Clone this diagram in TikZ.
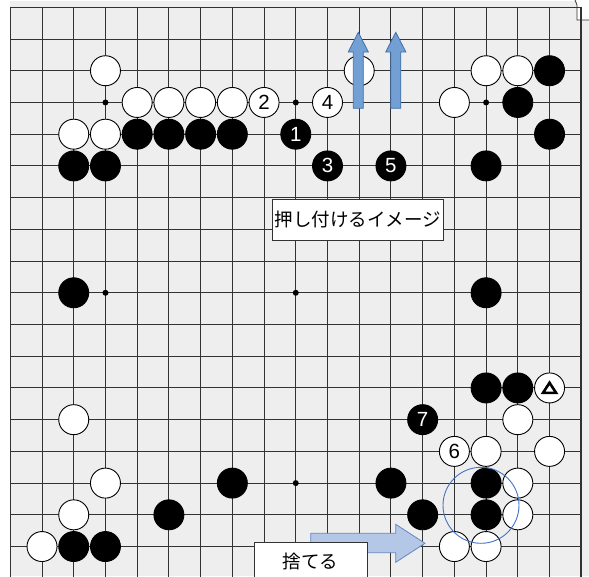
\documentclass[tikz,border=0pt]{standalone}
\usepackage{fontspec}
\setmainfont{Liberation Sans}
\newfontfamily\jpfont{Noto Sans CJK JP}
\definecolor{boardbg}{RGB}{238,238,238}
\definecolor{gridcol}{RGB}{50,50,50}
\definecolor{uparrowfill}{RGB}{114,159,212}
\definecolor{uparrowline}{RGB}{65,113,170}
\definecolor{rarrowfill}{RGB}{180,199,231}
\definecolor{rarrowline}{RGB}{100,135,190}
\definecolor{circcol}{RGB}{68,114,196}
\begin{document}
\begin{tikzpicture}[x=1pt,y=-1pt,
  gridline/.style={draw=gridcol,line width=0.9pt},
  frameline/.style={draw=gridcol,line width=1.6pt},
  starpt/.style={circle,fill=black,minimum size=6pt,inner sep=0pt},
  wst/.style={circle,draw=black,line width=0.9pt,fill=white,minimum size=30pt,inner sep=0pt,text=black,font=\fontsize{20.5}{20.5}\selectfont},
  bst/.style={circle,draw=black,line width=0.9pt,fill=black,minimum size=30pt,inner sep=0pt,text=white,font=\fontsize{20.5}{20.5}\selectfont},
  labelbox/.style={draw=gridcol,line width=0.8pt,fill=white,inner sep=0pt,font=\jpfont\fontsize{18.5}{18.5}\selectfont},
  uparrow/.style={fill=uparrowfill,draw=uparrowline,line width=0.8pt},
  rarrow/.style={fill=rarrowfill,draw=rarrowline,line width=0.8pt}]
\useasboundingbox (0,0) rectangle (589,576);
\fill[white] (0,0) rectangle (589,576);
\fill[boardbg] (10,1) rectangle (589,576);
\fill[white] (577,0) rectangle (589,20);
\draw[gridcol,line width=0.8pt] (575,0) -- (577,5) -- (577,20) -- (589,20);
\clip (0,0) rectangle (589,576);
\begin{scope}[shift={(10.3pt,-7.3pt)},x=31.72pt,y=-31.72pt]
  \foreach \k in {1,...,17} {
    \draw[gridline] (\k,0) -- (\k,18);
    \draw[gridline] (0,\k) -- (18,\k);
  }
  \draw[frameline] (0,18.5) -- (0,0) -- (18,0) -- (18,18.5);
  \foreach \i/\j in {3/3,9/3,15/3,3/9,9/9,15/9,3/15,9/15,15/15}
    \node[starpt] (s\i-\j) at (\i,\j) {};
  % white stones
  \foreach \i/\j in {3/2,4/3,5/3,6/3,7/3,2/4,3/4,11/2,15/2,16/2,14/3,
                     2/13,3/15,2/16,1/17,16/13,15/14,17/14,16/15,16/16,14/17,15/17}
    \node[wst] (w\i-\j) at (\i,\j) {};
  % black stones
  \foreach \i/\j in {4/4,5/4,6/4,7/4,2/5,3/5,17/2,16/3,17/4,15/5,2/9,15/9,
                     15/12,16/12,7/15,12/15,15/15,5/16,13/16,15/16,2/17,3/17}
    \node[bst] (b\i-\j) at (\i,\j) {};
  % numbered stones
  \node[bst] (m1) at (9,4) {1};
  \node[wst] (m2) at (8,3) {2};
  \node[bst] (m3) at (10,5) {3};
  \node[wst] (m4) at (10,3) {4};
  \node[bst] (m5) at (12,5) {5};
  \node[wst] (m6) at (14,14) {6};
  \node[bst] (m7) at (13,13) {7};
  \node[wst] (tri) at (17,12) {};
  \draw[line width=2.6pt,line join=miter] ([shift={(-6.6pt,-5pt)}]tri.center) -- ([shift={(6.6pt,-5pt)}]tri.center) -- ([shift={(0pt,5.2pt)}]tri.center) -- cycle;
\end{scope}
% up arrows
\draw[uparrow] (353.3,108.3) -- (353.3,52) -- (348.2,52) -- (358.3,32.3) -- (368.4,52) -- (363.3,52) -- (363.3,108.3) -- cycle;
\draw[uparrow] (390.8,108.3) -- (390.8,52) -- (385.7,52) -- (395.8,32.3) -- (405.9,52) -- (400.8,52) -- (400.8,108.3) -- cycle;
% focus circle
\node[circle,draw=circcol,line width=0.9pt,minimum size=76pt,inner sep=0pt] (focus) at (481,505.3) {};
% right arrow
\draw[rarrow] (310.7,533.3) -- (395.7,533.3) -- (395.7,524.3) -- (425,543.3) -- (395.7,562.3) -- (395.7,552.7) -- (310.7,552.7) -- cycle;
% label boxes
\node[labelbox,minimum width=170.6pt,minimum height=41.7pt] (push) at (358,219.85) {押し付けるイメージ};
\node[labelbox,minimum width=113.3pt,minimum height=37.8pt] (discard) at (310.7,561.2) {捨てる};
\end{tikzpicture}
\end{document}
